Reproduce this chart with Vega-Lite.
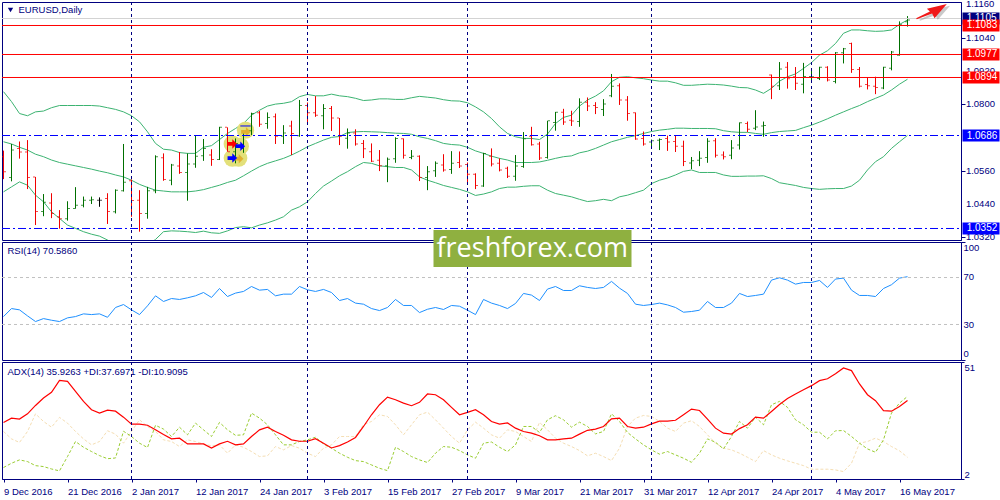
{
"$schema":"https://vega.github.io/schema/vega-lite/v6.json",
"background":"white",
"padding":{"left":0,"top":-2,"right":0,"bottom":0},
"bounds":"flush",
"spacing":2,
"config":{"view":{"stroke":"#000080","strokeWidth":1},"legend":{"disable":true},
"axis":{"grid":false,"domainColor":"#000080","tickColor":"#000080","labelColor":"#000080","labelFont":"Liberation Sans","labelFontSize":9.5,"tickSize":4,"labelPadding":1,"labelOverlap":false},
"text":{"font":"Liberation Sans"}},
"datasets":{
"bars":[
{"i":0,"o":1.0610,"h":1.0632,"l":1.0529,"c":1.0556,"bu":1.0845,"bm":1.0664,"bd":1.0483,"rsi":36.8,"adx":25.7,"pdi":6.8,"mdi":21.9,"dir":"down"},
{"i":1,"o":1.0535,"h":1.0656,"l":1.0521,"c":1.0634,"bu":1.0809,"bm":1.0656,"bd":1.0501,"rsi":43.6,"adx":27.5,"pdi":8.6,"mdi":18.8,"dir":"up"},
{"i":2,"o":1.0640,"h":1.0665,"l":1.0603,"c":1.0627,"bu":1.0766,"bm":1.0644,"bd":1.0519,"rsi":42.5,"adx":27.1,"pdi":10.0,"mdi":17.3,"dir":"down"},
{"i":3,"o":1.0627,"h":1.0670,"l":1.0493,"c":1.0535,"bu":1.0758,"bm":1.0634,"bd":1.0507,"rsi":37.4,"adx":29.3,"pdi":9.3,"mdi":21.9,"dir":"down"},
{"i":4,"o":1.0537,"h":1.0537,"l":1.0363,"c":1.0412,"bu":1.0772,"bm":1.0619,"bd":1.0471,"rsi":32.6,"adx":32.8,"pdi":7.6,"mdi":29.3,"dir":"down"},
{"i":5,"o":1.0412,"h":1.0475,"l":1.0395,"c":1.0445,"bu":1.0775,"bm":1.0610,"bd":1.0447,"rsi":35.1,"adx":35.9,"pdi":7.2,"mdi":26.1,"dir":"up"},
{"i":6,"o":1.0443,"h":1.0478,"l":1.0388,"c":1.0405,"bu":1.0787,"bm":1.0598,"bd":1.0411,"rsi":33.7,"adx":38.3,"pdi":6.2,"mdi":23.7,"dir":"down"},
{"i":7,"o":1.0393,"h":1.0417,"l":1.0350,"c":1.0386,"bu":1.0795,"bm":1.0589,"bd":1.0387,"rsi":32.6,"adx":43.3,"pdi":5.4,"mdi":27.8,"dir":"down"},
{"i":8,"o":1.0386,"h":1.0449,"l":1.0379,"c":1.0423,"bu":1.0795,"bm":1.0583,"bd":1.0363,"rsi":35.7,"adx":42.9,"pdi":11.4,"mdi":25.4,"dir":"up"},
{"i":9,"o":1.0423,"h":1.0500,"l":1.0422,"c":1.0435,"bu":1.0795,"bm":1.0577,"bd":1.0351,"rsi":36.8,"adx":38.7,"pdi":17.7,"mdi":21.9,"dir":"up"},
{"i":10,"o":1.0435,"h":1.0466,"l":1.0427,"c":1.0453,"bu":1.0795,"bm":1.0571,"bd":1.0339,"rsi":39.1,"adx":34.5,"pdi":15.3,"mdi":18.8,"dir":"up"},
{"i":11,"o":1.0453,"h":1.0466,"l":1.0439,"c":1.0454,"bu":1.0795,"bm":1.0565,"bd":1.0330,"rsi":38.5,"adx":31.0,"pdi":13.5,"mdi":16.3,"dir":"up"},
{"i":12,"o":1.0453,"h":1.0463,"l":1.0429,"c":1.0453,"bu":1.0793,"bm":1.0558,"bd":1.0323,"rsi":39.1,"adx":29.6,"pdi":11.8,"mdi":17.7,"dir":"flat"},
{"i":13,"o":1.0459,"h":1.0478,"l":1.0367,"c":1.0412,"bu":1.0787,"bm":1.0552,"bd":1.0309,"rsi":36.2,"adx":30.8,"pdi":10.5,"mdi":22.2,"dir":"down"},
{"i":14,"o":1.0411,"h":1.0492,"l":1.0405,"c":1.0489,"bu":1.0781,"bm":1.0544,"bd":1.0291,"rsi":44.5,"adx":30.4,"pdi":10.8,"mdi":20.8,"dir":"up"},
{"i":15,"o":1.0487,"h":1.0656,"l":1.0484,"c":1.0518,"bu":1.0772,"bm":1.0537,"bd":1.0278,"rsi":47.0,"adx":27.9,"pdi":22.0,"mdi":17.0,"dir":"up"},
{"i":16,"o":1.0523,"h":1.0528,"l":1.0393,"c":1.0452,"bu":1.0758,"bm":1.0525,"bd":1.0266,"rsi":42.5,"adx":25.0,"pdi":19.8,"mdi":21.9,"dir":"down"},
{"i":17,"o":1.0453,"h":1.0489,"l":1.0339,"c":1.0405,"bu":1.0736,"bm":1.0510,"bd":1.0272,"rsi":38.5,"adx":25.0,"pdi":17.0,"mdi":26.8,"dir":"down"},
{"i":18,"o":1.0405,"h":1.0501,"l":1.0386,"c":1.0487,"bu":1.0700,"bm":1.0499,"bd":1.0291,"rsi":45.9,"adx":24.5,"pdi":15.2,"mdi":24.0,"dir":"up"},
{"i":19,"o":1.0487,"h":1.0615,"l":1.0478,"c":1.0610,"bu":1.0658,"bm":1.0489,"bd":1.0311,"rsi":54.4,"adx":22.6,"pdi":24.5,"mdi":21.9,"dir":"up"},
{"i":20,"o":1.0606,"h":1.0622,"l":1.0523,"c":1.0528,"bu":1.0637,"bm":1.0486,"bd":1.0339,"rsi":49.6,"adx":20.6,"pdi":22.9,"mdi":18.4,"dir":"down"},
{"i":21,"o":1.0525,"h":1.0584,"l":1.0507,"c":1.0580,"bu":1.0634,"bm":1.0483,"bd":1.0342,"rsi":52.1,"adx":18.8,"pdi":19.8,"mdi":17.7,"dir":"up"},
{"i":22,"o":1.0576,"h":1.0627,"l":1.0548,"c":1.0553,"bu":1.0625,"bm":1.0483,"bd":1.0341,"rsi":51.3,"adx":19.1,"pdi":23.7,"mdi":15.6,"dir":"down"},
{"i":23,"o":1.0553,"h":1.0622,"l":1.0451,"c":1.0584,"bu":1.0622,"bm":1.0483,"bd":1.0339,"rsi":52.7,"adx":16.7,"pdi":20.5,"mdi":18.4,"dir":"up"},
{"i":24,"o":1.0584,"h":1.0688,"l":1.0570,"c":1.0612,"bu":1.0622,"bm":1.0486,"bd":1.0336,"rsi":54.4,"adx":16.7,"pdi":25.4,"mdi":17.7,"dir":"up"},
{"i":25,"o":1.0613,"h":1.0674,"l":1.0595,"c":1.0640,"bu":1.0644,"bm":1.0491,"bd":1.0341,"rsi":57.2,"adx":16.7,"pdi":22.6,"mdi":16.7,"dir":"up"},
{"i":26,"o":1.0616,"h":1.0637,"l":1.0577,"c":1.0600,"bu":1.0650,"bm":1.0499,"bd":1.0335,"rsi":53.0,"adx":15.0,"pdi":19.8,"mdi":15.9,"dir":"down"},
{"i":27,"o":1.0600,"h":1.0718,"l":1.0598,"c":1.0716,"bu":1.0672,"bm":1.0507,"bd":1.0333,"rsi":60.6,"adx":16.7,"pdi":25.7,"mdi":16.3,"dir":"up"},
{"i":28,"o":1.0716,"h":1.0716,"l":1.0628,"c":1.0628,"bu":1.0694,"bm":1.0517,"bd":1.0342,"rsi":53.8,"adx":17.8,"pdi":22.6,"mdi":12.8,"dir":"down"},
{"i":29,"o":1.0628,"h":1.0676,"l":1.0586,"c":1.0658,"bu":1.0712,"bm":1.0525,"bd":1.0354,"rsi":56.7,"adx":16.3,"pdi":20.3,"mdi":16.3,"dir":"up"},
{"i":30,"o":1.0640,"h":1.0706,"l":1.0624,"c":1.0704,"bu":1.0730,"bm":1.0541,"bd":1.0357,"rsi":58.1,"adx":16.7,"pdi":20.5,"mdi":15.3,"dir":"up"},
{"i":31,"o":1.0704,"h":1.0769,"l":1.0688,"c":1.0766,"bu":1.0760,"bm":1.0558,"bd":1.0353,"rsi":62.3,"adx":19.8,"pdi":29.6,"mdi":13.5,"dir":"up"},
{"i":32,"o":1.0769,"h":1.0775,"l":1.0718,"c":1.0727,"bu":1.0778,"bm":1.0574,"bd":1.0363,"rsi":59.2,"adx":22.6,"pdi":27.5,"mdi":11.4,"dir":"down"},
{"i":33,"o":1.0730,"h":1.0770,"l":1.0711,"c":1.0752,"bu":1.0793,"bm":1.0586,"bd":1.0371,"rsi":59.8,"adx":23.7,"pdi":24.7,"mdi":11.7,"dir":"up"},
{"i":34,"o":1.0754,"h":1.0766,"l":1.0656,"c":1.0684,"bu":1.0800,"bm":1.0595,"bd":1.0381,"rsi":54.4,"adx":21.9,"pdi":20.5,"mdi":15.6,"dir":"down"},
{"i":35,"o":1.0684,"h":1.0724,"l":1.0656,"c":1.0696,"bu":1.0803,"bm":1.0604,"bd":1.0393,"rsi":55.8,"adx":20.3,"pdi":16.3,"mdi":14.2,"dir":"up"},
{"i":36,"o":1.0721,"h":1.0740,"l":1.0616,"c":1.0694,"bu":1.0809,"bm":1.0616,"bd":1.0417,"rsi":55.8,"adx":18.4,"pdi":16.3,"mdi":16.0,"dir":"down"},
{"i":37,"o":1.0686,"h":1.0815,"l":1.0682,"c":1.0795,"bu":1.0827,"bm":1.0630,"bd":1.0429,"rsi":62.3,"adx":17.8,"pdi":17.7,"mdi":14.9,"dir":"up"},
{"i":38,"o":1.0795,"h":1.0806,"l":1.0725,"c":1.0769,"bu":1.0835,"bm":1.0646,"bd":1.0447,"rsi":59.5,"adx":17.8,"pdi":18.4,"mdi":12.8,"dir":"down"},
{"i":39,"o":1.0769,"h":1.0829,"l":1.0754,"c":1.0760,"bu":1.0830,"bm":1.0658,"bd":1.0477,"rsi":58.1,"adx":18.9,"pdi":19.5,"mdi":11.4,"dir":"down"},
{"i":40,"o":1.0758,"h":1.0800,"l":1.0709,"c":1.0784,"bu":1.0830,"bm":1.0670,"bd":1.0504,"rsi":59.8,"adx":17.0,"pdi":16.7,"mdi":14.9,"dir":"up"},
{"i":41,"o":1.0784,"h":1.0793,"l":1.0703,"c":1.0750,"bu":1.0836,"bm":1.0680,"bd":1.0522,"rsi":57.2,"adx":15.0,"pdi":14.9,"mdi":16.3,"dir":"down"},
{"i":42,"o":1.0750,"h":1.0750,"l":1.0652,"c":1.0684,"bu":1.0830,"bm":1.0683,"bd":1.0541,"rsi":50.4,"adx":16.0,"pdi":12.8,"mdi":19.8,"dir":"down"},
{"i":43,"o":1.0677,"h":1.0712,"l":1.0639,"c":1.0696,"bu":1.0827,"bm":1.0697,"bd":1.0556,"rsi":52.1,"adx":17.5,"pdi":11.1,"mdi":19.8,"dir":"up"},
{"i":44,"o":1.0696,"h":1.0709,"l":1.0650,"c":1.0656,"bu":1.0821,"bm":1.0700,"bd":1.0574,"rsi":48.2,"adx":19.4,"pdi":9.7,"mdi":19.8,"dir":"down"},
{"i":45,"o":1.0658,"h":1.0670,"l":1.0605,"c":1.0639,"bu":1.0813,"bm":1.0701,"bd":1.0589,"rsi":47.3,"adx":24.0,"pdi":9.3,"mdi":24.7,"dir":"down"},
{"i":46,"o":1.0628,"h":1.0658,"l":1.0591,"c":1.0594,"bu":1.0815,"bm":1.0700,"bd":1.0586,"rsi":43.6,"adx":28.9,"pdi":7.9,"mdi":26.1,"dir":"down"},
{"i":47,"o":1.0597,"h":1.0634,"l":1.0558,"c":1.0577,"bu":1.0819,"bm":1.0699,"bd":1.0577,"rsi":41.9,"adx":33.1,"pdi":6.5,"mdi":28.9,"dir":"down"},
{"i":48,"o":1.0577,"h":1.0607,"l":1.0518,"c":1.0601,"bu":1.0819,"bm":1.0697,"bd":1.0574,"rsi":44.5,"adx":36.3,"pdi":5.5,"mdi":28.2,"dir":"up"},
{"i":49,"o":1.0603,"h":1.0680,"l":1.0588,"c":1.0676,"bu":1.0817,"bm":1.0695,"bd":1.0571,"rsi":51.3,"adx":35.2,"pdi":15.3,"mdi":24.7,"dir":"up"},
{"i":50,"o":1.0675,"h":1.0676,"l":1.0603,"c":1.0615,"bu":1.0817,"bm":1.0694,"bd":1.0571,"rsi":46.2,"adx":33.8,"pdi":13.5,"mdi":20.5,"dir":"down"},
{"i":51,"o":1.0607,"h":1.0634,"l":1.0601,"c":1.0612,"bu":1.0823,"bm":1.0691,"bd":1.0562,"rsi":46.2,"adx":32.7,"pdi":11.4,"mdi":24.7,"dir":"up"},
{"i":52,"o":1.0612,"h":1.0615,"l":1.0522,"c":1.0535,"bu":1.0828,"bm":1.0682,"bd":1.0537,"rsi":40.2,"adx":34.1,"pdi":10.0,"mdi":28.9,"dir":"down"},
{"i":53,"o":1.0535,"h":1.0576,"l":1.0489,"c":1.0556,"bu":1.0825,"bm":1.0676,"bd":1.0525,"rsi":43.0,"adx":37.6,"pdi":8.9,"mdi":30.0,"dir":"up"},
{"i":54,"o":1.0559,"h":1.0593,"l":1.0537,"c":1.0586,"bu":1.0822,"bm":1.0668,"bd":1.0516,"rsi":44.5,"adx":37.3,"pdi":12.8,"mdi":26.8,"dir":"up"},
{"i":55,"o":1.0580,"h":1.0619,"l":1.0556,"c":1.0562,"bu":1.0816,"bm":1.0658,"bd":1.0506,"rsi":42.8,"adx":35.2,"pdi":15.6,"mdi":23.3,"dir":"down"},
{"i":56,"o":1.0564,"h":1.0630,"l":1.0548,"c":1.0586,"bu":1.0812,"bm":1.0654,"bd":1.0499,"rsi":46.2,"adx":32.0,"pdi":15.3,"mdi":19.8,"dir":"up"},
{"i":57,"o":1.0589,"h":1.0629,"l":1.0569,"c":1.0576,"bu":1.0811,"bm":1.0652,"bd":1.0492,"rsi":45.6,"adx":28.9,"pdi":13.9,"mdi":17.0,"dir":"down"},
{"i":58,"o":1.0582,"h":1.0589,"l":1.0511,"c":1.0547,"bu":1.0805,"bm":1.0644,"bd":1.0483,"rsi":42.2,"adx":29.9,"pdi":12.1,"mdi":22.6,"dir":"down"},
{"i":59,"o":1.0547,"h":1.0550,"l":1.0493,"c":1.0506,"bu":1.0790,"bm":1.0631,"bd":1.0470,"rsi":38.5,"adx":31.0,"pdi":10.7,"mdi":25.8,"dir":"down"},
{"i":60,"o":1.0504,"h":1.0624,"l":1.0501,"c":1.0622,"bu":1.0772,"bm":1.0622,"bd":1.0475,"rsi":51.3,"adx":28.9,"pdi":17.0,"mdi":23.3,"dir":"up"},
{"i":61,"o":1.0612,"h":1.0640,"l":1.0575,"c":1.0584,"bu":1.0748,"bm":1.0612,"bd":1.0483,"rsi":48.2,"adx":26.1,"pdi":17.5,"mdi":20.5,"dir":"down"},
{"i":62,"o":1.0586,"h":1.0604,"l":1.0557,"c":1.0562,"bu":1.0718,"bm":1.0604,"bd":1.0495,"rsi":46.2,"adx":25.0,"pdi":15.3,"mdi":19.1,"dir":"down"},
{"i":63,"o":1.0568,"h":1.0574,"l":1.0533,"c":1.0539,"bu":1.0694,"bm":1.0598,"bd":1.0500,"rsi":43.6,"adx":25.5,"pdi":13.5,"mdi":22.6,"dir":"down"},
{"i":64,"o":1.0539,"h":1.0616,"l":1.0523,"c":1.0576,"bu":1.0682,"bm":1.0589,"bd":1.0500,"rsi":47.9,"adx":23.3,"pdi":16.3,"mdi":21.9,"dir":"up"},
{"i":65,"o":1.0575,"h":1.0699,"l":1.0570,"c":1.0675,"bu":1.0676,"bm":1.0589,"bd":1.0503,"rsi":56.4,"adx":21.9,"pdi":24.0,"mdi":19.8,"dir":"up"},
{"i":66,"o":1.0684,"h":1.0718,"l":1.0650,"c":1.0653,"bu":1.0676,"bm":1.0589,"bd":1.0505,"rsi":55.0,"adx":21.2,"pdi":24.0,"mdi":17.7,"dir":"down"},
{"i":67,"o":1.0656,"h":1.0664,"l":1.0598,"c":1.0605,"bu":1.0672,"bm":1.0591,"bd":1.0505,"rsi":50.4,"adx":20.1,"pdi":21.5,"mdi":25.7,"dir":"down"},
{"i":68,"o":1.0607,"h":1.0740,"l":1.0603,"c":1.0740,"bu":1.0692,"bm":1.0597,"bd":1.0489,"rsi":60.1,"adx":18.4,"pdi":26.8,"mdi":22.6,"dir":"up"},
{"i":69,"o":1.0734,"h":1.0772,"l":1.0704,"c":1.0771,"bu":1.0730,"bm":1.0604,"bd":1.0477,"rsi":62.3,"adx":18.4,"pdi":28.5,"mdi":19.1,"dir":"up"},
{"i":70,"o":1.0771,"h":1.0783,"l":1.0725,"c":1.0735,"bu":1.0752,"bm":1.0610,"bd":1.0471,"rsi":58.9,"adx":18.8,"pdi":26.8,"mdi":17.0,"dir":"down"},
{"i":71,"o":1.0742,"h":1.0776,"l":1.0721,"c":1.0739,"bu":1.0760,"bm":1.0613,"bd":1.0465,"rsi":58.9,"adx":19.1,"pdi":23.7,"mdi":15.6,"dir":"down"},
{"i":72,"o":1.0737,"h":1.0821,"l":1.0718,"c":1.0807,"bu":1.0793,"bm":1.0624,"bd":1.0456,"rsi":62.9,"adx":20.8,"pdi":25.8,"mdi":13.9,"dir":"up"},
{"i":73,"o":1.0807,"h":1.0824,"l":1.0775,"c":1.0793,"bu":1.0815,"bm":1.0630,"bd":1.0448,"rsi":61.5,"adx":22.4,"pdi":24.0,"mdi":11.7,"dir":"down"},
{"i":74,"o":1.0795,"h":1.0807,"l":1.0764,"c":1.0788,"bu":1.0829,"bm":1.0640,"bd":1.0451,"rsi":60.6,"adx":22.9,"pdi":20.9,"mdi":12.8,"dir":"down"},
{"i":75,"o":1.0781,"h":1.0818,"l":1.0757,"c":1.0800,"bu":1.0848,"bm":1.0652,"bd":1.0456,"rsi":61.5,"adx":24.0,"pdi":21.9,"mdi":11.4,"dir":"up"},
{"i":76,"o":1.0830,"h":1.0909,"l":1.0825,"c":1.0865,"bu":1.0881,"bm":1.0664,"bd":1.0451,"rsi":66.6,"adx":27.2,"pdi":29.3,"mdi":9.7,"dir":"up"},
{"i":77,"o":1.0866,"h":1.0875,"l":1.0797,"c":1.0815,"bu":1.0897,"bm":1.0672,"bd":1.0465,"rsi":60.9,"adx":27.5,"pdi":26.1,"mdi":14.9,"dir":"down"},
{"i":78,"o":1.0815,"h":1.0829,"l":1.0740,"c":1.0766,"bu":1.0899,"bm":1.0680,"bd":1.0471,"rsi":56.4,"adx":24.0,"pdi":21.5,"mdi":24.0,"dir":"down"},
{"i":79,"o":1.0769,"h":1.0770,"l":1.0671,"c":1.0674,"bu":1.0895,"bm":1.0686,"bd":1.0480,"rsi":47.3,"adx":23.3,"pdi":18.8,"mdi":27.5,"dir":"down"},
{"i":80,"o":1.0676,"h":1.0701,"l":1.0650,"c":1.0656,"bu":1.0892,"bm":1.0694,"bd":1.0489,"rsi":46.2,"adx":23.7,"pdi":16.3,"mdi":28.6,"dir":"down"},
{"i":81,"o":1.0663,"h":1.0672,"l":1.0639,"c":1.0668,"bu":1.0887,"bm":1.0701,"bd":1.0513,"rsi":47.0,"adx":25.1,"pdi":14.2,"mdi":28.2,"dir":"up"},
{"i":82,"o":1.0669,"h":1.0676,"l":1.0634,"c":1.0672,"bu":1.0883,"bm":1.0706,"bd":1.0525,"rsi":48.2,"adx":26.2,"pdi":12.4,"mdi":26.1,"dir":"up"},
{"i":83,"o":1.0676,"h":1.0686,"l":1.0631,"c":1.0663,"bu":1.0883,"bm":1.0709,"bd":1.0533,"rsi":46.7,"adx":26.2,"pdi":13.5,"mdi":23.3,"dir":"down"},
{"i":84,"o":1.0665,"h":1.0686,"l":1.0627,"c":1.0648,"bu":1.0877,"bm":1.0713,"bd":1.0544,"rsi":44.5,"adx":26.6,"pdi":12.1,"mdi":21.9,"dir":"down"},
{"i":85,"o":1.0648,"h":1.0668,"l":1.0576,"c":1.0593,"bu":1.0868,"bm":1.0713,"bd":1.0557,"rsi":40.5,"adx":28.9,"pdi":10.7,"mdi":25.4,"dir":"down"},
{"i":86,"o":1.0587,"h":1.0609,"l":1.0565,"c":1.0595,"bu":1.0868,"bm":1.0712,"bd":1.0562,"rsi":41.1,"adx":31.3,"pdi":9.0,"mdi":26.4,"dir":"up"},
{"i":87,"o":1.0597,"h":1.0630,"l":1.0576,"c":1.0604,"bu":1.0870,"bm":1.0712,"bd":1.0553,"rsi":42.2,"adx":30.7,"pdi":12.8,"mdi":24.0,"dir":"up"},
{"i":88,"o":1.0607,"h":1.0677,"l":1.0588,"c":1.0666,"bu":1.0872,"bm":1.0712,"bd":1.0553,"rsi":49.6,"adx":27.1,"pdi":18.8,"mdi":20.5,"dir":"up"},
{"i":89,"o":1.0668,"h":1.0677,"l":1.0607,"c":1.0615,"bu":1.0871,"bm":1.0711,"bd":1.0553,"rsi":44.5,"adx":23.3,"pdi":17.4,"mdi":17.0,"dir":"down"},
{"i":90,"o":1.0616,"h":1.0629,"l":1.0600,"c":1.0610,"bu":1.0869,"bm":1.0704,"bd":1.0544,"rsi":44.5,"adx":21.2,"pdi":14.6,"mdi":14.9,"dir":"down"},
{"i":91,"o":1.0615,"h":1.0670,"l":1.0601,"c":1.0641,"bu":1.0865,"bm":1.0700,"bd":1.0539,"rsi":48.2,"adx":20.8,"pdi":19.8,"mdi":14.2,"dir":"up"},
{"i":92,"o":1.0652,"h":1.0734,"l":1.0636,"c":1.0733,"bu":1.0860,"bm":1.0698,"bd":1.0539,"rsi":56.4,"adx":23.1,"pdi":26.1,"mdi":12.8,"dir":"up"},
{"i":93,"o":1.0730,"h":1.0737,"l":1.0699,"c":1.0709,"bu":1.0859,"bm":1.0698,"bd":1.0540,"rsi":53.8,"adx":24.7,"pdi":23.3,"mdi":11.1,"dir":"down"},
{"i":94,"o":1.0713,"h":1.0778,"l":1.0706,"c":1.0717,"bu":1.0851,"bm":1.0694,"bd":1.0540,"rsi":54.7,"adx":27.9,"pdi":27.9,"mdi":9.3,"dir":"up"},
{"i":95,"o":1.0721,"h":1.0737,"l":1.0682,"c":1.0723,"bu":1.0839,"bm":1.0691,"bd":1.0541,"rsi":55.8,"adx":27.5,"pdi":24.7,"mdi":13.9,"dir":"up"},
{"i":96,"o":1.0905,"h":1.0907,"l":1.0818,"c":1.0865,"bu":1.0857,"bm":1.0697,"bd":1.0531,"rsi":67.7,"adx":30.3,"pdi":33.1,"mdi":12.1,"dir":"down"},
{"i":97,"o":1.0866,"h":1.0952,"l":1.0851,"c":1.0927,"bu":1.0883,"bm":1.0701,"bd":1.0516,"rsi":69.7,"adx":33.2,"pdi":34.5,"mdi":10.7,"dir":"up"},
{"i":98,"o":1.0933,"h":1.0952,"l":1.0856,"c":1.0892,"bu":1.0899,"bm":1.0703,"bd":1.0511,"rsi":67.7,"adx":35.7,"pdi":32.0,"mdi":9.6,"dir":"down"},
{"i":99,"o":1.0899,"h":1.0934,"l":1.0851,"c":1.0875,"bu":1.0909,"bm":1.0705,"bd":1.0506,"rsi":64.3,"adx":37.6,"pdi":26.8,"mdi":8.6,"dir":"down"},
{"i":100,"o":1.0872,"h":1.0949,"l":1.0839,"c":1.0900,"bu":1.0929,"bm":1.0715,"bd":1.0499,"rsi":65.7,"adx":39.4,"pdi":24.7,"mdi":7.6,"dir":"up"},
{"i":101,"o":1.0900,"h":1.0930,"l":1.0878,"c":1.0899,"bu":1.0950,"bm":1.0724,"bd":1.0495,"rsi":65.7,"adx":41.1,"pdi":21.6,"mdi":6.1,"dir":"up"},
{"i":102,"o":1.0893,"h":1.0935,"l":1.0887,"c":1.0933,"bu":1.0977,"bm":1.0735,"bd":1.0492,"rsi":67.4,"adx":43.2,"pdi":21.6,"mdi":6.1,"dir":"up"},
{"i":103,"o":1.0933,"h":1.0937,"l":1.0882,"c":1.0887,"bu":1.0993,"bm":1.0747,"bd":1.0494,"rsi":61.5,"adx":44.0,"pdi":18.8,"mdi":6.1,"dir":"down"},
{"i":104,"o":1.0882,"h":1.0988,"l":1.0875,"c":1.0986,"bu":1.1019,"bm":1.0760,"bd":1.0495,"rsi":68.6,"adx":46.1,"pdi":22.2,"mdi":5.8,"dir":"up"},
{"i":105,"o":1.0986,"h":1.1003,"l":1.0947,"c":1.1000,"bu":1.1056,"bm":1.0772,"bd":1.0495,"rsi":69.4,"adx":48.5,"pdi":22.3,"mdi":5.1,"dir":"up"},
{"i":106,"o":1.1019,"h":1.1022,"l":1.0913,"c":1.0925,"bu":1.1068,"bm":1.0784,"bd":1.0504,"rsi":59.2,"adx":47.4,"pdi":19.8,"mdi":8.6,"dir":"down"},
{"i":107,"o":1.0925,"h":1.0934,"l":1.0860,"c":1.0865,"bu":1.1068,"bm":1.0795,"bd":1.0525,"rsi":54.7,"adx":41.8,"pdi":17.0,"mdi":17.0,"dir":"down"},
{"i":108,"o":1.0871,"h":1.0897,"l":1.0853,"c":1.0866,"bu":1.1065,"bm":1.0809,"bd":1.0562,"rsi":54.7,"adx":37.3,"pdi":14.6,"mdi":17.7,"dir":"down"},
{"i":109,"o":1.0865,"h":1.0899,"l":1.0836,"c":1.0860,"bu":1.1063,"bm":1.0821,"bd":1.0592,"rsi":53.8,"adx":34.8,"pdi":13.2,"mdi":19.1,"dir":"down"},
{"i":110,"o":1.0858,"h":1.0935,"l":1.0854,"c":1.0933,"bu":1.1064,"bm":1.0833,"bd":1.0610,"rsi":60.6,"adx":30.6,"pdi":18.4,"mdi":17.7,"dir":"up"},
{"i":111,"o":1.0930,"h":1.0992,"l":1.0922,"c":1.0988,"bu":1.1068,"bm":1.0851,"bd":1.0640,"rsi":63.8,"adx":30.4,"pdi":29.6,"mdi":15.6,"dir":"up"},
{"i":112,"o":1.0977,"h":1.1099,"l":1.0975,"c":1.1087,"bu":1.1088,"bm":1.0872,"bd":1.0664,"rsi":69.4,"adx":32.4,"pdi":33.8,"mdi":13.8,"dir":"up"},
{"i":113,"o":1.1098,"h":1.1118,"l":1.1080,"c":1.1104,"bu":1.1104,"bm":1.0890,"bd":1.0687,"rsi":70.6,"adx":34.9,"pdi":36.6,"mdi":11.1,"dir":"up"}
],
"verticals":[{"i":16},{"i":38},{"i":58},{"i":81},{"i":101}],
"levels":[
{"price":1.11094,"label":"1.1105","kind":"last"},
{"price":1.10841,"label":"1.1083","kind":"resistance"},
{"price":1.09793,"label":"1.0977","kind":"resistance"},
{"price":1.08962,"label":"1.0894","kind":"resistance"},
{"price":1.06866,"label":"1.0686","kind":"support"},
{"price":1.03506,"label":"1.0352","kind":"support"}
],
"priceLabels":[
{"price":1.116,"label":"1.1160"},{"price":1.104,"label":"1.1040"},{"price":1.092,"label":"1.0920"},{"price":1.08,"label":"1.0800"},
{"price":1.068,"label":"1.0680"},{"price":1.056,"label":"1.0560"},{"price":1.044,"label":"1.0440"},{"price":1.032,"label":"1.0320"}
],
"rsiLabels":[
{"value":94.5,"label":"100"},{"value":70,"label":"70"},{"value":30,"label":"30"},{"value":5.5,"label":"0"}
],
"signals":[
{"i":30.25,"price":1.0706},{"i":28.6,"price":1.0656},{"i":29.6,"price":1.0648},{"i":28.6,"price":1.0605},{"i":29.4,"price":1.0605}
],
"arrows":[
{"i":30.3,"price":1.0700,"kind":"exit"},{"i":29.4,"price":1.0603,"kind":"exit"},
{"i":28.6,"price":1.0656,"kind":"sell"},{"i":29.6,"price":1.0648,"kind":"buy"},{"i":28.6,"price":1.0605,"kind":"buy"}
]
},
"vconcat":[
{"width":959,"height":238,"data":{"name":"bars"},
"encoding":{"x":{"field":"i","type":"quantitative","title":null,"axis":null,"scale":{"domain":[-0.1875,119.6875],"nice":false,"zero":false}}},
"layer":[
{"mark":{"type":"line","color":"#3CB371","strokeWidth":1,"clip":true},"encoding":{"y":{"field":"bu","type":"quantitative","title":null,"scale":{"domain":[1.0309,1.1169],"nice":false,"zero":false},"axis":{"orient":"right","labels":false,"values":[1.116,1.104,1.092,1.08,1.068,1.056,1.044,1.032]}}}},
{"mark":{"type":"line","color":"#3CB371","strokeWidth":1,"clip":true},"encoding":{"y":{"field":"bm","type":"quantitative","title":null}}},
{"mark":{"type":"line","color":"#3CB371","strokeWidth":1,"clip":true},"encoding":{"y":{"field":"bd","type":"quantitative","title":null}}},
{"data":{"name":"signals"},"mark":{"type":"point","filled":true,"color":"#E3E07A","size":300,"opacity":1},"encoding":{"y":{"field":"price","type":"quantitative","title":null}}},
{"mark":{"type":"rule","strokeWidth":1,"clip":true},"encoding":{"y":{"field":"l","type":"quantitative","title":null},"y2":{"field":"h"},"color":{"field":"dir","type":"nominal","scale":{"domain":["up","down","flat","resistance","support","last","buy","sell","exit"],"range":["#006F00","#F00000","#000000","#FF0000","#0000FF","#000080","#0000FF","#FF0000","#E0B030"]}}}},
{"mark":{"type":"tick","orient":"horizontal","size":2,"thickness":1,"xOffset":-1.5,"clip":true},"encoding":{"y":{"field":"o","type":"quantitative","title":null},"color":{"field":"dir","type":"nominal"}}},
{"mark":{"type":"tick","orient":"horizontal","size":2,"thickness":1,"xOffset":1.5,"clip":true},"encoding":{"y":{"field":"c","type":"quantitative","title":null},"color":{"field":"dir","type":"nominal"}}},
{"data":{"name":"arrows"},"mark":{"type":"point","filled":true,"opacity":1,"size":90,"shape":"M-1,-0.4 L0,-0.4 L0,-1 L1,0 L0,1 L0,0.4 L-1,0.4 Z"},"encoding":{"y":{"field":"price","type":"quantitative","title":null},"color":{"field":"kind","type":"nominal"}}},
{"data":{"values":[{"i":29.6,"i2":30.9,"price":1.0721}]},"mark":{"type":"rule","color":"#0000FF","strokeWidth":1},"encoding":{"y":{"field":"price","type":"quantitative","title":null},"x2":{"field":"i2"}}},
{"data":{"name":"verticals"},"mark":{"type":"rule","color":"#000080","strokeWidth":1,"strokeDash":[3,3]}},
{"data":{"name":"levels"},"transform":[{"filter":"datum.kind==='last'"},{"calculate":"-0.1875","as":"from"},{"calculate":"119.6875","as":"to"}],"mark":{"type":"rule","color":"#D3D3D3","strokeWidth":1},"encoding":{"x":{"field":"from","type":"quantitative"},"x2":{"field":"to"},"y":{"field":"price","type":"quantitative","title":null}}},
{"data":{"name":"levels"},"transform":[{"filter":"datum.kind==='resistance'"},{"calculate":"-0.1875","as":"from"},{"calculate":"119.6875","as":"to"}],"mark":{"type":"rule","color":"#FF0000","strokeWidth":1},"encoding":{"x":{"field":"from","type":"quantitative"},"x2":{"field":"to"},"y":{"field":"price","type":"quantitative","title":null}}},
{"data":{"name":"levels"},"transform":[{"filter":"datum.kind==='support'"},{"calculate":"-0.1875","as":"from"},{"calculate":"119.6875","as":"to"}],"mark":{"type":"rule","color":"#0000FF","strokeWidth":1,"strokeDash":[8,3,2,3]},"encoding":{"x":{"field":"from","type":"quantitative"},"x2":{"field":"to"},"y":{"field":"price","type":"quantitative","title":null}}},
{"data":{"name":"priceLabels"},"transform":[{"calculate":"120.3","as":"from"}],"mark":{"type":"text","color":"#000080","align":"left","baseline":"middle","fontSize":9.5},"encoding":{"x":{"field":"from","type":"quantitative"},"y":{"field":"price","type":"quantitative","title":null},"text":{"field":"label"}}},
{"data":{"name":"levels"},"transform":[{"calculate":"119.875","as":"from"},{"calculate":"124.5","as":"to"}],"mark":{"type":"rule","strokeWidth":12},"encoding":{"x":{"field":"from","type":"quantitative"},"x2":{"field":"to"},"y":{"field":"price","type":"quantitative","title":null},"color":{"field":"kind","type":"nominal"}}},
{"data":{"name":"levels"},"transform":[{"calculate":"120.4","as":"from"}],"mark":{"type":"text","color":"white","align":"left","baseline":"middle","fontSize":10,"font":"Liberation Sans"},"encoding":{"x":{"field":"from","type":"quantitative"},"y":{"field":"price","type":"quantitative","title":null},"text":{"field":"label"}}},
{"data":{"values":[{"i":116.4,"price":1.1130}]},"mark":{"type":"point","filled":true,"color":"#888888","opacity":0.45,"size":1024,"shape":"M-0.96,0.44 L-0.1,0.02 L-0.29,-0.15 L0.96,-0.44 L0.19,0.44 L0.04,0.15 L-0.92,0.5 Z"},"encoding":{"y":{"field":"price","type":"quantitative","title":null}}},
{"data":{"values":[{"i":116,"price":1.1136}]},"mark":{"type":"point","filled":true,"color":"#F01818","opacity":1,"size":1024,"shape":"M-0.96,0.44 L-0.1,0.02 L-0.29,-0.15 L0.96,-0.44 L0.19,0.44 L0.04,0.15 L-0.92,0.5 Z"},"encoding":{"y":{"field":"price","type":"quantitative","title":null}}},
{"data":{"values":[{"i":0.875,"price":1.1140}]},"mark":{"type":"point","filled":true,"color":"#000080","opacity":1,"shape":"triangle-down","size":28},"encoding":{"y":{"field":"price","type":"quantitative","title":null}}},
{"data":{"values":[{"i":1.875,"price":1.1140,"label":"EURUSD,Daily"}]},"mark":{"type":"text","color":"#000080","align":"left","baseline":"middle","fontSize":9.5},"encoding":{"y":{"field":"price","type":"quantitative","title":null},"text":{"field":"label"}}}
]},
{"width":959,"height":118,"data":{"name":"bars"},
"encoding":{"x":{"field":"i","type":"quantitative","title":null,"axis":null,"scale":{"domain":[-0.1875,119.6875],"nice":false,"zero":false}}},
"layer":[
{"mark":{"type":"line","color":"#1E90FF","strokeWidth":1},"encoding":{"y":{"field":"rsi","type":"quantitative","title":null,"scale":{"domain":[0,100],"nice":false,"zero":false},"axis":{"orient":"right","labels":false,"values":[0,30,70,100]}}}},
{"data":{"values":[{"level":69.9},{"level":30.1}]},"transform":[{"calculate":"-0.1875","as":"from"},{"calculate":"119.6875","as":"to"}],"mark":{"type":"rule","color":"#C0C0C0","strokeWidth":1,"strokeDash":[3,3]},"encoding":{"x":{"field":"from","type":"quantitative"},"x2":{"field":"to"},"y":{"field":"level","type":"quantitative","title":null}}},
{"data":{"name":"verticals"},"mark":{"type":"rule","color":"#000080","strokeWidth":1,"strokeDash":[3,3]}},
{"data":{"name":"rsiLabels"},"transform":[{"calculate":"120.0","as":"from"}],"mark":{"type":"text","color":"#000080","align":"left","baseline":"middle","fontSize":9.5},"encoding":{"x":{"field":"from","type":"quantitative"},"y":{"field":"value","type":"quantitative","title":null},"text":{"field":"label"}}},
{"data":{"values":[{"i":0.5,"value":92,"label":"RSI(14) 70.5860"}]},"mark":{"type":"text","color":"#000080","align":"left","baseline":"middle","fontSize":9.5},"encoding":{"y":{"field":"value","type":"quantitative","title":null},"text":{"field":"label"}}},
{"data":{"values":[{"i":53.75,"i2":78.5,"top":110.2,"bottom":78.8}]},"mark":{"type":"rect","color":"#8FB040"},"encoding":{"x2":{"field":"i2"},"y":{"field":"top","type":"quantitative","title":null},"y2":{"field":"bottom"}}},
{"data":{"values":[{"i":66.1,"value":94.2,"label":"freshforex.com"}]},"mark":{"type":"text","color":"#FFFFFF","align":"center","baseline":"middle","fontSize":27,"font":"Open Sans"},"encoding":{"y":{"field":"value","type":"quantitative","title":null},"text":{"field":"label"}}}
]},
{"width":959,"height":117,"data":{"name":"bars"},
"encoding":{"x":{"field":"i","type":"quantitative","title":null,"scale":{"domain":[-0.1875,119.6875],"nice":false,"zero":false},"axis":{"values":[0,8,16,24,32,40,48,56,64,72,80,88,96,104,112],"labelAngle":0,"labelAlign":"left","labelPadding":4,"labelOverlap":false,"tickSize":3,"labelExpr":"['9 Dec 2016','21 Dec 2016','2 Jan 2017','12 Jan 2017','24 Jan 2017','3 Feb 2017','15 Feb 2017','27 Feb 2017','9 Mar 2017','21 Mar 2017','31 Mar 2017','12 Apr 2017','24 Apr 2017','4 May 2017','16 May 2017'][datum.value/8]"}}},
"layer":[
{"mark":{"type":"line","color":"#F5DEB3","strokeWidth":1,"strokeDash":[3,2]},"encoding":{"y":{"field":"mdi","type":"quantitative","title":null,"scale":{"domain":[2,51],"nice":false,"zero":false},"axis":{"orient":"right","labelOverlap":false,"values":[2,51],"format":"d","labelFlush":true,"tickSize":3,"labelPadding":0}}}},
{"mark":{"type":"line","color":"#9ACD32","strokeWidth":1,"strokeDash":[3,2]},"encoding":{"y":{"field":"pdi","type":"quantitative","title":null}}},
{"mark":{"type":"line","color":"#FF0000","strokeWidth":1.2},"encoding":{"y":{"field":"adx","type":"quantitative","title":null}}},
{"data":{"name":"verticals"},"mark":{"type":"rule","color":"#000080","strokeWidth":1,"strokeDash":[3,3]}},
{"data":{"values":[{"i":0.5,"value":47,"label":"ADX(14) 35.9263 +DI:37.6971 -DI:10.9095"}]},"mark":{"type":"text","color":"#000080","align":"left","baseline":"middle","fontSize":9.5},"encoding":{"y":{"field":"value","type":"quantitative","title":null},"text":{"field":"label"}}}
]}
]
}
